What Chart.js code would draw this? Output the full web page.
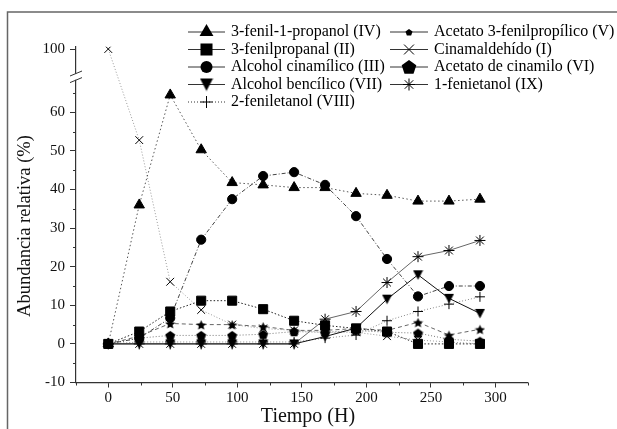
<!DOCTYPE html>
<html>
<head>
<meta charset="utf-8">
<script src="https://cdn.jsdelivr.net/npm/chart.js@4.4.0/dist/chart.umd.min.js"></script>
<style>
  body { margin: 0; background: #fff; }
  #wrap { position: relative; width: 617px; height: 429px; }
</style>
</head>
<body>
<div id="wrap"><canvas id="chart" width="617" height="429"></canvas></div>
<script>
// Tiempo de muestreo (h)
const tiempos = [0, 24, 48, 72, 96, 120, 144, 168, 192, 216, 240, 264, 288];

// Abundancia relativa (%) de cada compuesto
const fenilPropanol   = [0, 36, 64.5, 50.3, 41.8, 41.2, 40.5, 40.5, 39, 38.5, 37, 37, 37.5];   // IV
const fenilPropanal   = [0, 3.2, 8.4, 11.2, 11.2, 9, 6, 4.8, 4, 3.2, 0, 0, 0];                 // II
const alcCinamilico   = [0, 1.5, 6.7, 27, 37.5, 43.5, 44.5, 41.2, 33.1, 22, 12.3, 15, 15];      // III
const alcBencilico    = [0, 0, 0, 0, 0, 0, 0, 1.9, 4.1, 11.6, 17.9, 11.8, 7.9];                 // VII
const feniletanol     = [0, 0.5, 0.5, 0.5, 0.5, 0.5, 0.5, 1.5, 2.3, 6, 8.4, 10.3, 12.2];        // VIII
const acetFenilprop   = [0, 2, 5.3, 5, 5, 4.5, 3.5, 3.5, 4, 3.5, 5.6, 2.3, 3.8];                // V
const cinamaldehido   = [100, 52.8, 16.1, 8.8, 5, 4, 3.5, 3, 3, 2, 1, 0.5, 0];                  // I
const acetCinamilo    = [0, 1.5, 2.2, 2.2, 2.2, 2.5, 3.2, 3, 3.5, 3, 2.8, 1.2, 0.7];            // VI
const fenietanol      = [0, 0, 0, 0, 0, 0, 0, 6.4, 8.4, 15.9, 22.6, 24.2, 26.8];                // IX

// Ejes
const xTicks = [0, 50, 100, 150, 200, 250, 300];
const xMinor = [-25, 25, 75, 125, 175, 225, 275, 325];
const yTicks = [-10, 0, 10, 20, 30, 40, 50, 60, 100];
const yMinor = [-5, 5, 15, 25, 35, 45, 55, 65];
const xTitle = 'Tiempo (H)';
const yTitle = 'Abundancia relativa (%)';

// corte del eje Y entre 68 y 94
const BREAK_LO = 68, BREAK_HI = 94, BREAK_GAP = 2.4;
function toAxis(v) {
    return v >= BREAK_HI ? v - (BREAK_HI - BREAK_LO) + BREAK_GAP : v;
}

const FONT = '"Liberation Serif", "Times New Roman", serif';

function pts(arr) {
    return tiempos.map((t, i) => ({ x: t, y: arr[i] }));
}

// filled marker shapes not built into Chart.js
function shape(kind, size) {
    const c = document.createElement('canvas');
    c.width = c.height = size;
    const g = c.getContext('2d');
    const r = size / 2;
    g.fillStyle = '#000';
    g.beginPath();
    if (kind === 'tridown') {
        g.moveTo(0.5, 1);
        g.lineTo(size - 0.5, 1);
        g.lineTo(r, size - 0.5);
    } else if (kind === 'pentagon') {
        for (let i = 0; i < 5; i++) {
            const a = -Math.PI / 2 + i * 2 * Math.PI / 5;
            g.lineTo(r + Math.cos(a) * (r - 0.3), r + 0.6 + Math.sin(a) * (r - 0.3));
        }
    } else if (kind === 'star') {
        for (let i = 0; i < 10; i++) {
            const a = -Math.PI / 2 + i * Math.PI / 5;
            const rr = i % 2 ? r * 0.45 : r - 0.2;
            g.lineTo(r + Math.cos(a) * rr, r + 0.8 + Math.sin(a) * rr);
        }
    }
    g.closePath();
    g.fill();
    return c;
}

const datasets = [
    { label: '3-fenil-1-propanol (IV)', data: pts(fenilPropanol), pointStyle: 'triangle', pointRadius: 6,
      borderColor: '#555', borderDash: [1.5, 2.5], legend: { style: 'triangle', r: 8 }, col: 0 },
    { label: '3-fenilpropanal (II)', data: pts(fenilPropanal), pointStyle: 'rect', pointRadius: 6.4,
      borderColor: '#222', borderDash: [1.5, 2], legend: { style: 'rect', r: 8.5 }, col: 0 },
    { label: 'Alcohol cinamílico (III)', data: pts(alcCinamilico), pointStyle: 'circle', pointRadius: 4.6,
      borderColor: '#444', borderDash: [4, 2, 1, 2], legend: { style: 'circle', r: 6 }, col: 0 },
    { label: 'Alcohol bencílico (VII)', data: pts(alcBencilico), pointStyle: shape('tridown', 11), pointRadius: 5,
      borderColor: '#111', borderDash: [], legend: { style: shape('tridown', 14), r: 7 }, col: 0 },
    { label: '2-feniletanol (VIII)', data: pts(feniletanol), pointStyle: 'cross', pointRadius: 5,
      borderColor: '#888', borderDash: [1, 2], legend: { style: 'cross', r: 6, dash: [1, 2] }, col: 0 },
    { label: 'Acetato 3-fenilpropílico (V)', data: pts(acetFenilprop), pointStyle: shape('star', 11), pointRadius: 5,
      borderColor: '#666', borderDash: [4, 3], legend: { style: shape('pentagon', 8), r: 4 }, col: 1 },
    { label: 'Cinamaldehído (I)', data: pts(cinamaldehido), pointStyle: 'crossRot', pointRadius: 5.5,
      borderColor: '#999', borderDash: [1, 2], legend: { style: 'crossRot', r: 7 }, col: 1 },
    { label: 'Acetato de cinamilo (VI)', data: pts(acetCinamilo), pointStyle: shape('pentagon', 11), pointRadius: 5,
      borderColor: '#777', borderDash: [1, 2], legend: { style: shape('pentagon', 16), r: 8 }, col: 1 },
    { label: '1-fenietanol (IX)', data: pts(fenietanol), pointStyle: 'star', pointRadius: 5.5,
      borderColor: '#666', borderDash: [], legend: { style: 'star', r: 6 }, col: 1 }
];
datasets.forEach(d => {
    d.borderWidth = 1;
    d.pointBackgroundColor = '#000';
    d.pointBorderColor = '#000';
    d.pointBorderWidth = 1;
    d.tension = 0;
    d.fill = false;
});

function drawMarker(ctx, style, r, x, y) {
    if (typeof style !== 'string') {
        ctx.drawImage(style, x - style.width / 2, y - style.height / 2);
        return;
    }
    ctx.beginPath();
    if (style === 'triangle') {
        ctx.moveTo(x, y - r);
        ctx.lineTo(x + r * 0.866, y + r * 0.5);
        ctx.lineTo(x - r * 0.866, y + r * 0.5);
        ctx.closePath();
        ctx.fill();
    } else if (style === 'rect') {
        const s = r * 0.7071;
        ctx.rect(x - s, y - s, 2 * s, 2 * s);
        ctx.fill();
    } else if (style === 'circle') {
        ctx.arc(x, y, r, 0, Math.PI * 2);
        ctx.fill();
    } else {
        if (style === 'cross' || style === 'star') {
            ctx.moveTo(x - r, y); ctx.lineTo(x + r, y);
            ctx.moveTo(x, y - r); ctx.lineTo(x, y + r);
        }
        if (style === 'crossRot' || style === 'star') {
            const s = r * 0.7071;
            ctx.moveTo(x - s, y - s); ctx.lineTo(x + s, y + s);
            ctx.moveTo(x - s, y + s); ctx.lineTo(x + s, y - s);
        }
        ctx.stroke();
    }
}

const decor = {
    id: 'decor',
    afterDraw(chart) {
        const { ctx, scales: { x, y } } = chart;
        ctx.save();
        ctx.strokeStyle = '#333';
        ctx.lineWidth = 1;

        // minor ticks
        ctx.beginPath();
        xMinor.forEach(v => {
            const px = Math.round(x.getPixelForValue(v)) + 0.5;
            ctx.moveTo(px, y.bottom);
            ctx.lineTo(px, y.bottom + 3);
        });
        yMinor.forEach(v => {
            const py = Math.round(y.getPixelForValue(v)) + 0.5;
            ctx.moveTo(x.left, py);
            ctx.lineTo(x.left - 3, py);
        });
        ctx.stroke();

        // axis break marks
        const base = v => Chart.LinearScale.prototype.getPixelForValue.call(y, v);
        const mid = base(BREAK_LO + BREAK_GAP / 2);
        ctx.fillStyle = '#fff';
        ctx.fillRect(x.left - 2, mid - 3, 4, 6);
        ctx.beginPath();
        [-3.3, 3.3].forEach(d => {
            ctx.moveTo(x.left - 6, mid + d + 2.5);
            ctx.lineTo(x.left + 6, mid + d - 2.5);
        });
        ctx.stroke();

        // outer frame
        ctx.strokeStyle = '#666';
        ctx.lineWidth = 1.5;
        ctx.beginPath();
        ctx.moveTo(7.5, 429);
        ctx.lineTo(7.5, 12);
        ctx.lineTo(617, 12);
        ctx.stroke();

        // axis titles
        ctx.fillStyle = '#111';
        ctx.textAlign = 'center';
        ctx.textBaseline = 'middle';
        ctx.font = '20px ' + FONT;
        ctx.fillText(xTitle, 308, 417);
        ctx.save();
        ctx.translate(25, 226);
        ctx.rotate(-Math.PI / 2);
        ctx.font = '18.5px ' + FONT;
        ctx.fillText(yTitle, 0, 0);
        ctx.restore();

        // legend, two columns
        const cols = [{ x0: 188, x1: 225, tx: 231 }, { x0: 390, x1: 428, tx: 434 }];
        const rows = [0, 0];
        ctx.font = '16px ' + FONT;
        ctx.textBaseline = 'middle';
        ctx.textAlign = 'left';
        chart.data.datasets.forEach(d => {
            const c = cols[d.col];
            const ly = 32 + 17.5 * rows[d.col]++;
            ctx.strokeStyle = '#333';
            ctx.fillStyle = '#000';
            ctx.lineWidth = 1;
            ctx.setLineDash(d.legend.dash || []);
            ctx.beginPath();
            ctx.moveTo(c.x0, ly);
            ctx.lineTo(c.x1, ly);
            ctx.stroke();
            ctx.setLineDash([]);
            ctx.strokeStyle = '#000';
            drawMarker(ctx, d.legend.style, d.legend.r, (c.x0 + c.x1) / 2, ly);
            ctx.fillStyle = '#000';
            ctx.fillText(d.label, c.tx, ly);
        });
        ctx.restore();
    }
};

new Chart(document.getElementById('chart').getContext('2d'), {
    type: 'line',
    data: { datasets: datasets },
    options: {
        responsive: false,
        animation: false,
        layout: { padding: { top: 46.7, right: 89.3, left: 0, bottom: 0 } },
        plugins: {
            legend: { display: false },
            tooltip: { enabled: false }
        },
        scales: {
            x: {
                type: 'linear',
                min: -25,
                max: 325,
                afterBuildTicks: scale => { scale.ticks = xTicks.map(v => ({ value: v })); },
                afterFit: scale => { scale.height = 46.5; },
                grid: { drawOnChartArea: false, drawTicks: true, tickLength: 5, color: '#333' },
                border: { color: '#333', width: 1.2 },
                ticks: { color: '#111', font: { family: FONT, size: 15 }, padding: 2, maxRotation: 0 },
                title: { display: false }
            },
            y: {
                type: 'linear',
                min: -10,
                max: 77,
                afterDataLimits: scale => {
                    scale.getPixelForValue = function (v) {
                        return Chart.LinearScale.prototype.getPixelForValue.call(this, toAxis(v));
                    };
                },
                afterBuildTicks: scale => { scale.ticks = yTicks.map(v => ({ value: v })); },
                afterFit: scale => { scale.width = 76; },
                grid: { drawOnChartArea: false, drawTicks: true, tickLength: 6, color: '#333' },
                border: { color: '#333', width: 1.2 },
                ticks: { color: '#111', font: { family: FONT, size: 15 }, padding: 5 },
                title: { display: false }
            }
        }
    },
    plugins: [decor]
});
</script>
</body>
</html>
